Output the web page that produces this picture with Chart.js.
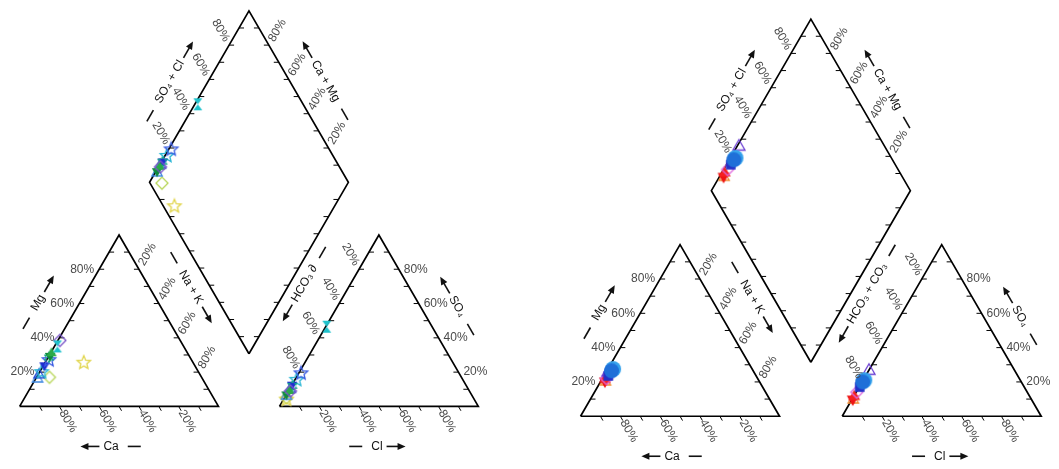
<!DOCTYPE html>
<html>
<head>
<meta charset="utf-8">
<script src="https://cdn.jsdelivr.net/npm/chart.js@4.4.1/dist/chart.umd.min.js"></script>
<style>
  html, body { margin: 0; padding: 0; background: #fff; }
  #wrap { position: relative; width: 1059px; height: 469px; overflow: hidden; }
  #wrap canvas { position: absolute; top: 0; }
</style>
</head>
<body>
<div id="wrap">
  <canvas id="piperA" width="530" height="469" style="left:0"></canvas>
  <canvas id="piperB" width="529" height="469" style="left:530px"></canvas>
</div>
<script>
const SQ = Math.sqrt(3) / 2;

// left diagram, % meq/L
const leftMg  = [17, 25.5, 16, 18.5, 20, 24, 27, 28.5, 29.5, 31, 38.5, 35];
const leftNa  = [6.5, 19.5, 1, 0.5, 1, 0.5, 1.3, 0.5, 0.5, 0.5, 1, 1.5];
const leftSO4 = [5, 4, 6, 10, 15.5, 12.7, 19.3, 12, 7, 9, 9, 46.5];
const leftCl  = [1, 1.5, 0.5, 0.5, 0.9, 0, 1.2, 0.5, 0, 0.5, 1, 0.5];

// right diagram, % meq/L
const rightMg  = [20, 20.5, 21.5, 22, 25.5, 23.5, 27.5, 26.5];
const rightNa  = [2.5, 2, 1.5, 2, 1, 2.2, 2.6, 2.3];
const rightSO4 = [9.5, 10, 11.5, 14, 26.5, 17, 21, 20];
const rightCl  = [0.8, 0.3, 0.3, 0.3, 0.2, 0.3, 0.6, 0.3];

const tickValues = [20, 40, 60, 80];
const tickLabels = ['20%', '40%', '60%', '80%'];

// marker styles: shape, colour, filled, radius
const leftStyle = [
  ['diamond', '#b8d65a', false, 6],
  ['star', '#e0d448', false, 7],
  ['tri', '#3c86e0', false, 6],
  ['tri', '#2448d8', false, 6],
  ['star', '#22b4d4', false, 7],
  ['triDown', '#1e2ed0', true, 6],
  ['star', '#3b5ce2', false, 7],
  ['hexagram', '#17a88c', true, 6],
  ['triDown', '#0f8a3e', true, 6],
  ['tri', '#2baa48', true, 6],
  ['diamond', '#7a55c8', false, 6],
  ['bowtie', '#1fc2cc', true, 6]
];
const rightStyle = [
  ['tri', '#f08a30', false, 6],
  ['triDown', '#ee1414', true, 7],
  ['tri', '#f52020', true, 7],
  ['diamond', '#dd66dd', false, 6],
  ['tri', '#6b3fd2', false, 7],
  ['rect', '#2430c8', true, 6],
  ['circle', '#35a2ec', true, 8],
  ['circle', '#1f6fd8', true, 7.5]
];

const FONT = '12px "Liberation Sans", Arial, sans-serif';

function marker(shape, color, filled, r) {
  const c = document.createElement('canvas');
  const S = Math.ceil(r * 2 + 4);
  c.width = S; c.height = S;
  const g = c.getContext('2d');
  g.translate(S / 2, S / 2);
  g.strokeStyle = color; g.fillStyle = color; g.lineWidth = 1.3;
  g.beginPath();
  if (shape === 'circle') {
    g.arc(0, 0, r, 0, Math.PI * 2);
  } else if (shape === 'tri') {
    g.moveTo(0, -r); g.lineTo(r * SQ, r * 0.5); g.lineTo(-r * SQ, r * 0.5); g.closePath();
  } else if (shape === 'triDown') {
    g.moveTo(0, r); g.lineTo(r * SQ, -r * 0.5); g.lineTo(-r * SQ, -r * 0.5); g.closePath();
  } else if (shape === 'diamond') {
    g.moveTo(0, -r); g.lineTo(r, 0); g.lineTo(0, r); g.lineTo(-r, 0); g.closePath();
  } else if (shape === 'rect') {
    g.rect(-r * 0.8, -r * 0.8, r * 1.6, r * 1.6);
  } else if (shape === 'star') {
    for (let i = 0; i < 10; i++) {
      const rr = i % 2 ? r * 0.45 : r;
      const a = -Math.PI / 2 + i * Math.PI / 5;
      if (i === 0) g.moveTo(rr * Math.cos(a), rr * Math.sin(a));
      else g.lineTo(rr * Math.cos(a), rr * Math.sin(a));
    }
    g.closePath();
  } else if (shape === 'hexagram') {
    g.moveTo(0, -r); g.lineTo(r * SQ, r * 0.5); g.lineTo(-r * SQ, r * 0.5); g.closePath();
    g.moveTo(0, r); g.lineTo(r * SQ, -r * 0.5); g.lineTo(-r * SQ, -r * 0.5); g.closePath();
  } else if (shape === 'bowtie') {
    g.moveTo(-r * 0.75, -r); g.lineTo(r * 0.75, -r); g.lineTo(-r * 0.75, r); g.lineTo(r * 0.75, r); g.closePath();
  }
  if (filled) g.fill(); else g.stroke();
  return c;
}

function titleGroup(ctx, x, y, ang, text, arrowFirst) {
  ctx.save();
  ctx.translate(x, y);
  ctx.rotate(ang * Math.PI / 180);
  ctx.font = FONT;
  ctx.fillStyle = '#111';
  ctx.textAlign = 'center';
  ctx.textBaseline = 'middle';
  ctx.fillText(text, 0, 0);
  const w = ctx.measureText(text).width / 2;
  ctx.strokeStyle = '#111';
  ctx.lineWidth = 1.6;
  const ds = arrowFirst ? 1 : -1;   // dash side
  ctx.beginPath();
  ctx.moveTo(ds * (w + 9), 0); ctx.lineTo(ds * (w + 22), 0);
  ctx.stroke();
  const s = -ds;                     // arrow side
  ctx.beginPath();
  ctx.moveTo(s * (w + 4), 0); ctx.lineTo(s * (w + 17), 0);
  ctx.stroke();
  ctx.beginPath();
  ctx.moveTo(s * (w + 23), 0);
  ctx.lineTo(s * (w + 15), -3.5);
  ctx.lineTo(s * (w + 15), 3.5);
  ctx.closePath();
  ctx.fillStyle = '#111';
  ctx.fill();
  ctx.restore();
}

function buildPiper(id, geo, mg, na, so4, cl, styles, hcoText) {
  const g = geo.gap;
  const o = 100 + g;
  const bx = 100 + g / 2, by = g * SQ;
  const D = (a, c) => ({ x: bx + (a - c) / 2, y: by + (a + c) * SQ });

  const axes = [
    { pt: p => ({ x: p / 2, y: p * SQ }), dir: [-1, 0], tick: [1, 0] },                 // Mg
    { pt: p => ({ x: p + (100 - p) / 2, y: (100 - p) * SQ }), dir: [0.5, SQ], tick: [-1, 0] }, // Na+K
    { pt: p => ({ x: 100 - p, y: 0 }), dir: [0.5, -SQ], tick: [0.5, -SQ] },            // Ca
    { pt: p => ({ x: o + (100 - p) / 2, y: (100 - p) * SQ }), dir: [-0.5, SQ], tick: [1, 0] }, // HCO3
    { pt: p => ({ x: o + 100 - p / 2, y: p * SQ }), dir: [1, 0], tick: [-1, 0] },      // SO4
    { pt: p => ({ x: o + p, y: 0 }), dir: [0.5, -SQ], tick: [0.5, -SQ] },              // Cl
    { pt: p => D(p, 100), dir: [-0.5, SQ], tick: [1, 0] },                            // SO4+Cl
    { pt: p => D(100, p), dir: [0.5, SQ], tick: [-1, 0] },                            // Ca+Mg
    { pt: p => D(0, p), dir: null, tick: [1, 0] },
    { pt: p => D(p, 0), dir: null, tick: [-1, 0] }
  ];

  const titles = [
    { axis: 0, p: 50, n: [-SQ, 0.5], d: 36, ang: -60, text: 'Mg', arrowFirst: false },
    { axis: 1, p: 41, n: [SQ, 0.5], d: 36, ang: 60, text: 'Na + K', arrowFirst: false },
    { axis: 2, p: 54, n: [0, -1], d: 40, ang: 0, text: 'Ca', arrowFirst: true },
    { axis: 3, p: 40, n: [-SQ, 0.5], d: 40, ang: -60, text: hcoText, arrowFirst: true },
    { axis: 4, p: 49, n: [SQ, 0.5], d: 32, ang: 60, text: 'SO\u2084', arrowFirst: true },
    { axis: 5, p: 49, n: [0, -1], d: 40, ang: 0, text: 'Cl', arrowFirst: false },
    { axis: 6, p: 49, n: [-SQ, 0.5], d: 33, ang: -60, text: 'SO\u2084 + Cl', arrowFirst: false },
    { axis: 7, p: 50, n: [SQ, 0.5], d: 31, ang: 60, text: 'Ca + Mg', arrowFirst: true }
  ];

  const decor = {
    id: 'decor',
    beforeDatasetsDraw(chart) {
      const ctx = chart.ctx, xs = chart.scales.x, ys = chart.scales.y;
      ctx.save();
      ctx.strokeStyle = '#000';
      ctx.lineWidth = 1;
      axes.forEach(ax => {
        for (let p = 10; p < 100; p += 10) {
          const q = ax.pt(p);
          const px = xs.getPixelForValue(q.x), py = ys.getPixelForValue(q.y);
          ctx.beginPath();
          ctx.moveTo(px, py);
          ctx.lineTo(px + ax.tick[0] * 5, py - ax.tick[1] * 5);
          ctx.stroke();
        }
      });
      ctx.restore();
    },
    afterDatasetsDraw(chart) {
      const ctx = chart.ctx, xs = chart.scales.x, ys = chart.scales.y;
      ctx.save();
      ctx.font = FONT;
      ctx.fillStyle = '#4a4a4a';
      ctx.textBaseline = 'middle';
      axes.forEach(ax => {
        if (!ax.dir) return;
        const dx = ax.dir[0], dy = -ax.dir[1];
        tickValues.forEach((v, i) => {
          const q = ax.pt(v);
          const px = xs.getPixelForValue(q.x) + dx * 5;
          const py = ys.getPixelForValue(q.y) + dy * 5;
          let a = Math.atan2(dy, dx), align = 'left';
          if (dx < -0.01) { a += Math.PI; align = 'right'; }
          ctx.save();
          ctx.translate(px, py);
          ctx.rotate(a);
          ctx.textAlign = align;
          ctx.fillText(tickLabels[i], 0, 0);
          ctx.restore();
        });
      });
      titles.forEach(t => {
        const q = axes[t.axis].pt(t.p);
        const px = xs.getPixelForValue(q.x) + t.n[0] * t.d;
        const py = ys.getPixelForValue(q.y) - t.n[1] * t.d;
        titleGroup(ctx, px, py, t.ang, t.text, t.arrowFirst);
      });
      ctx.restore();
    }
  };

  const cat = [{ x: 0, y: 0 }, { x: 100, y: 0 }, { x: 50, y: 100 * SQ }, { x: 0, y: 0 }];
  const ani = cat.map(p => ({ x: p.x + o, y: p.y }));
  const dia = [D(0, 0), D(100, 0), D(100, 100), D(0, 100), D(0, 0)];

  const datasets = [cat, ani, dia].map(f => ({
    data: f, showLine: true, borderColor: '#000', borderWidth: 1.7,
    pointRadius: 0, fill: false, order: 1000
  }));

  mg.forEach((m, i) => {
    const st = styles[i];
    datasets.push({
      data: [
        { x: na[i] + m / 2, y: m * SQ },
        { x: o + cl[i] + so4[i] / 2, y: so4[i] * SQ },
        D(so4[i] + cl[i], 100 - na[i])
      ],
      showLine: false,
      pointStyle: marker(st[0], st[1], st[2], st[3]),
      pointRadius: st[3],
      order: mg.length - i
    });
  });

  const cv = document.getElementById(id);
  const k = geo.size / 100;
  new Chart(cv.getContext('2d'), {
    type: 'scatter',
    data: { datasets: datasets },
    options: {
      responsive: false,
      animation: false,
      devicePixelRatio: 1,
      events: [],
      layout: { padding: 0 },
      scales: {
        x: { type: 'linear', display: false, min: -geo.ox / k, max: (cv.width - geo.ox) / k },
        y: { type: 'linear', display: false, min: -(cv.height - geo.oy) / k, max: geo.oy / k }
      },
      plugins: { legend: { display: false }, tooltip: { enabled: false } }
    },
    plugins: [decor]
  });
}

buildPiper('piperA', { ox: 12, oy: 412.5, size: 205, gap: 30.7 },
  leftMg, leftNa, leftSO4, leftCl, leftStyle, 'HCO\u2083 \u2202');
buildPiper('piperB', { ox: 43, oy: 423.5, size: 206, gap: 31.5 },
  rightMg, rightNa, rightSO4, rightCl, rightStyle, 'HCO\u2083 + CO\u2083');
</script>
</body>
</html>
